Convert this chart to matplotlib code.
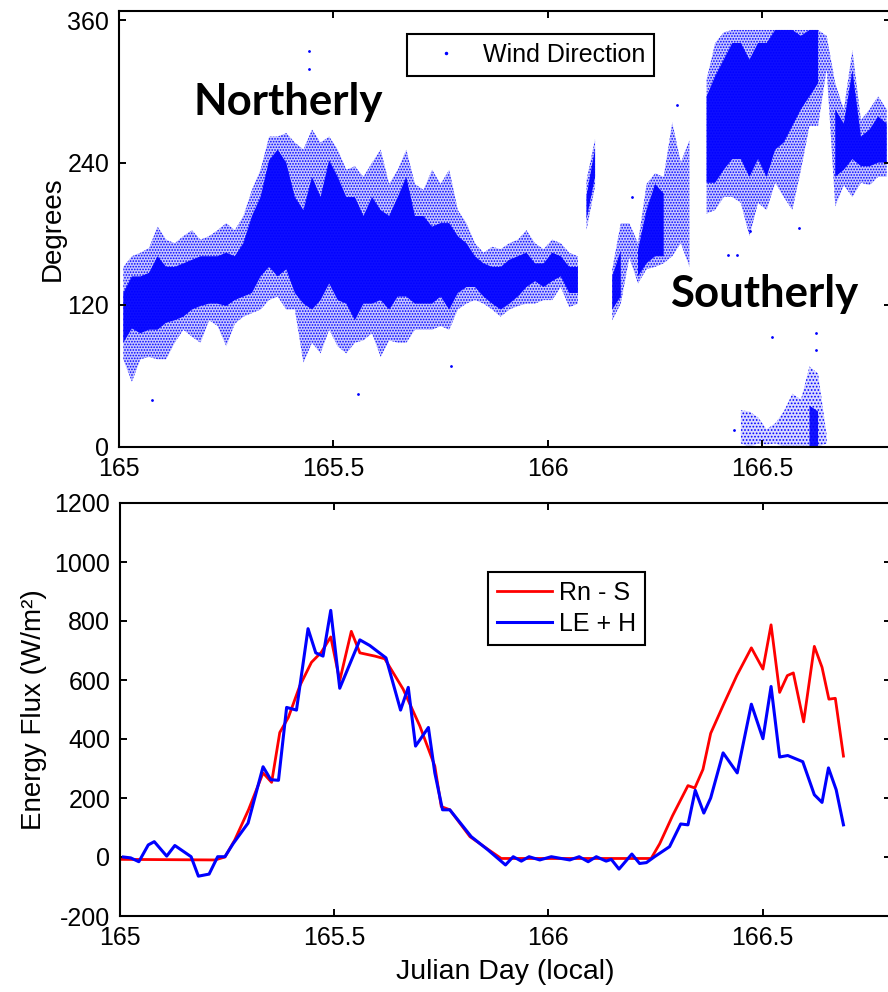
import numpy as np
import matplotlib
matplotlib.use("Agg")
import matplotlib.pyplot as plt
from matplotlib.lines import Line2D

plt.rcParams['font.family'] = ['Liberation Sans', 'DejaVu Sans']
plt.rcParams['axes.unicode_minus'] = False
plt.rcParams['hatch.color'] = '#0000ff'
plt.rcParams['hatch.linewidth'] = 0.8

nan = np.nan
# ---------------- Wind direction (per 0.02-day bin) ----------------
bin_day = [165.01, 165.03, 165.05, 165.07, 165.09, 165.11, 165.13, 165.15, 165.17, 165.19,
           165.21, 165.23, 165.25, 165.27, 165.29, 165.31, 165.33, 165.35, 165.37, 165.39,
           165.41, 165.43, 165.45, 165.47, 165.49, 165.51, 165.53, 165.55, 165.57, 165.59,
           165.61, 165.63, 165.65, 165.67, 165.69, 165.71, 165.73, 165.75, 165.77, 165.79,
           165.81, 165.83, 165.85, 165.87, 165.89, 165.91, 165.93, 165.95, 165.97, 165.99,
           166.01, 166.03, 166.05, 166.07, 166.08, 166.09, 166.11, 166.13, 166.15, 166.17, 166.19,
           166.21, 166.23, 166.25, 166.27, 166.29, 166.31, 166.33, 166.35, 166.37, 166.39,
           166.41, 166.43, 166.45, 166.47, 166.49, 166.51, 166.53, 166.55, 166.57, 166.59,
           166.61, 166.63, 166.65, 166.67, 166.69, 166.71, 166.73, 166.75, 166.77, 166.79]
dir_outer_lo = [74, 55, 74, 76, 74, 74, 88, 99, 93, 88,
                107, 102, 85, 104, 110, 113, 116, 124, 127, 116,
                116, 71, 88, 79, 99, 85, 79, 88, 90, 96,
                76, 90, 88, 88, 99, 99, 99, 102, 99, 116,
                121, 124, 121, 116, 110, 116, 119, 121, 121, 124,
                124, 135, 118, 121, nan, 183, 220, nan, 107, 121, 160,
                138, 150, 152, 155, 161, 172, 152, nan, 197, 200,
                211, 211, 206, 178, 206, 200, 223, 211, 200, 234,
                271, 271, 319, 203, 221, 211, 223, 221, 228, 228]
dir_core_lo = [88, 100, 96, 99, 99, 105, 107, 110, 116, 119,
               121, 121, 119, 124, 127, 130, 144, 152, 144, 150,
               130, 121, 116, 124, 138, 124, 121, 107, 121, 121,
               124, 116, 127, 127, 121, 121, 121, 127, 116, 130,
               135, 135, 127, 121, 116, 121, 127, 135, 140, 135,
               140, 144, 130, 130, nan, 192, 228, nan, 116, 127, nan,
               144, 155, 161, 161, nan, nan, 170, nan, 223, 223,
               234, 243, 243, 228, 243, 228, 251, 257, 271, 285,
               296, 307, nan, 228, 234, 243, 237, 237, 240, 240]
dir_core_hi = [130, 144, 144, 147, 161, 152, 152, 155, 158, 161,
               161, 161, 164, 161, 172, 195, 211, 242, 251, 240,
               211, 200, 228, 211, 242, 228, 211, 211, 195, 211,
               200, 195, 211, 228, 195, 195, 186, 189, 189, 178,
               172, 161, 155, 152, 152, 158, 161, 164, 155, 155,
               164, 161, 152, 152, nan, 212, 252, nan, 144, 166, nan,
               166, 200, 222, 214, nan, nan, 215, nan, 296, 313,
               327, 341, 341, 327, 341, 341, 352, 352, 352, 347,
               352, 352, nan, 285, 273, 318, 262, 268, 279, 273]
dir_outer_hi = [152, 161, 164, 168, 186, 175, 172, 178, 183, 175,
                178, 183, 189, 183, 195, 217, 234, 262, 262, 265,
                257, 251, 268, 257, 262, 251, 234, 237, 228, 240,
                251, 222, 234, 251, 222, 217, 234, 222, 234, 200,
                189, 172, 164, 169, 167, 172, 175, 183, 172, 167,
                175, 172, 164, 161, nan, 225, 260, nan, 150, 189, 189,
                172, 222, 231, 228, 274, 240, 259, nan, 310, 341,
                350, 352, 352, 352, 352, 352, 352, 352, 352, 352,
                352, 352, 347, 307, 285, 335, 276, 285, 296, 285]

# directions that wrapped round past north (near 0 degrees)
wrap_day = [166.45, 166.47, 166.49, 166.51, 166.53, 166.55, 166.57, 166.59, 166.61, 166.63, 166.65]
wrap_outer_lo = [3, 0, 3, 2, 3, 0, 0, 0, 0, 0, 3]
wrap_outer_hi = [31, 30, 25, 15, 20, 30, 45, 40, 68, 62, 10]
wrap_core_lo = [nan, nan, nan, nan, nan, nan, nan, nan, 0, 0, nan]
wrap_core_hi = [nan, nan, nan, nan, nan, nan, nan, nan, 35, 30, nan]

# isolated points
stray_day = [165.076, 165.444, 165.444, 165.558, 165.775, 166.196, 166.301, 166.42,
             166.433, 166.441, 166.472, 166.523, 166.585, 166.624, 166.624]
stray_dir = [40, 334, 319, 45, 68, 211, 289, 162, 14, 162, 182, 93, 185, 96, 82]

# ---------------- Energy fluxes ----------------
rn_day = [165.00, 165.222, 165.245, 165.268, 165.30, 165.334, 165.354, 165.373, 165.393, 165.42,
          165.447, 165.47, 165.492, 165.513, 165.54, 165.56, 165.595, 165.618, 165.661, 165.70,
          165.735, 165.75, 165.77, 165.817, 165.86, 165.89, 166.0, 166.1, 166.2, 166.24,
          166.26, 166.29, 166.326, 166.342, 166.361, 166.379, 166.41, 166.44, 166.474, 166.501,
          166.52, 166.54, 166.558, 166.572, 166.596, 166.621, 166.639, 166.655, 166.67, 166.689]
rn_s = [-8, -10, 0, 58, 160, 285, 253, 422, 473, 581,
        660, 694, 746, 598, 765, 692, 681, 672, 569, 444,
        308, 171, 160, 69, 25, -5, -5, -5, -5, -5,
        45, 140, 242, 234, 297, 419, 520, 615, 709, 637,
        787, 558, 615, 624, 458, 714, 643, 535, 538, 342]

le_day = [165.008, 165.025, 165.044, 165.066, 165.08, 165.109, 165.128, 165.166, 165.183, 165.208,
          165.228, 165.245, 165.264, 165.299, 165.334, 165.352, 165.37, 165.389, 165.412, 165.439,
          165.457, 165.474, 165.492, 165.513, 165.56, 165.583, 165.621, 165.655, 165.673, 165.69,
          165.72, 165.735, 165.753, 165.77, 165.82, 165.859, 165.90, 165.918, 165.937, 165.955,
          165.98, 166.007, 166.03, 166.05, 166.072, 166.093, 166.112, 166.135, 166.147, 166.165,
          166.195, 166.213, 166.229, 166.248, 166.283, 166.309, 166.326, 166.343, 166.363, 166.379,
          166.408, 166.441, 166.474, 166.501, 166.52, 166.54, 166.559, 166.594, 166.621, 166.639,
          166.654, 166.672, 166.689]
le_h = [0, -3, -16, 41, 52, 3, 39, 1, -65, -58,
        1, 1, 45, 115, 306, 262, 260, 507, 498, 774,
        692, 681, 836, 572, 736, 717, 675, 498, 575, 376,
        439, 285, 160, 160, 69, 24, -27, 1, -14, 1,
        -10, 1, -5, -10, 1, -16, 1, -14, -8, -41,
        10, -22, -19, 1, 35, 112, 109, 226, 149, 200,
        353, 285, 518, 401, 578, 339, 344, 323, 211, 185,
        302, 228, 109]

x_ticks = [165, 165.5, 166, 166.5]
x_tick_labels = ['165', '165.5', '166', '166.5']
dir_ticks = [0, 120, 240, 360]
flux_ticks = [-200, 0, 200, 400, 600, 800, 1000, 1200]

BLUE = '#0000ff'
RED = '#ff0000'

fig = plt.figure(figsize=(8.88, 9.92), dpi=100)
ax1 = fig.add_axes([119 / 888, 545 / 992, 772 / 888, 436 / 992])
ax2 = fig.add_axes([120 / 888, 76 / 992, 771 / 888, 413 / 992])

for ax in (ax1, ax2):
    for s in ax.spines.values():
        s.set_linewidth(1.5)
    ax.tick_params(direction='in', length=5, width=1.4, top=True, right=True,
                   labelsize=18, pad=7, colors='black')
    ax.set_xlim(165, 166.8)
    ax.set_xticks(x_ticks)
    ax.set_xticklabels(x_tick_labels)

# --- top panel: wind direction cloud ---
bd = np.array(bin_day)
ax1.fill_between(bd, dir_outer_lo, dir_outer_hi, facecolor=(0, 0, 1, 0.22), edgecolor=BLUE,
                 hatch='......', linewidth=0)
ax1.fill_between(bd, dir_core_lo, dir_core_hi, facecolor=(0, 0, 1, 0.93), linewidth=0)
wd = np.array(wrap_day)
ax1.fill_between(wd, wrap_outer_lo, wrap_outer_hi, facecolor=(0, 0, 1, 0.15), edgecolor=BLUE,
                 hatch='.....', linewidth=0)
ax1.fill_between(wd, wrap_core_lo, wrap_core_hi, facecolor=(0, 0, 1, 0.9), linewidth=0)
ax1.plot(stray_day, stray_dir, '.', color=BLUE, markersize=2)

ax1.set_ylim(0, 368)
ax1.set_yticks(dir_ticks)
ax1.set_ylabel('Degrees', fontsize=20, labelpad=1)

h = Line2D([], [], marker='.', linestyle='none', color=BLUE, markersize=3)
leg1 = ax1.legend([h], ['Wind Direction'], loc='upper left', bbox_to_anchor=(0.373, 0.947),
                  borderaxespad=0, fontsize=18, handlelength=2.4, handletextpad=0.3,
                  frameon=True, fancybox=False, framealpha=1, edgecolor='black',
                  borderpad=0.35)
leg1.get_frame().set_linewidth(1.5)

ax1.text(0.096, 0.761, 'Northerly', transform=ax1.transAxes, fontsize=31.5,
         fontweight='bold', family=['Lato', 'DejaVu Sans'], ha='left', va='baseline')
ax1.text(0.714, 0.321, 'Southerly', transform=ax1.transAxes, fontsize=31.5,
         fontweight='bold', family=['Lato', 'DejaVu Sans'], ha='left', va='baseline')

# --- bottom panel: energy fluxes ---
ax2.plot(rn_day, rn_s, color=RED, linewidth=2.0, label='Rn - S')
ax2.plot(le_day, le_h, color=BLUE, linewidth=2.2, label='LE + H')
ax2.set_ylim(-200, 1200)
ax2.set_yticks(flux_ticks)
ax2.set_ylabel('Energy Flux (W/m²)', fontsize=20, labelpad=5)
ax2.set_xlabel('Julian Day (local)', fontsize=20.5, labelpad=7)
leg2 = ax2.legend(loc='upper left', bbox_to_anchor=(0.477, 0.833), borderaxespad=0,
                  fontsize=18, handlelength=2.2, handletextpad=0.3, frameon=True,
                  fancybox=False, framealpha=1, edgecolor='black', borderpad=0.35,
                  labelspacing=0.3)
leg2.get_frame().set_linewidth(1.5)

fig.savefig('out.png', dpi=100)
